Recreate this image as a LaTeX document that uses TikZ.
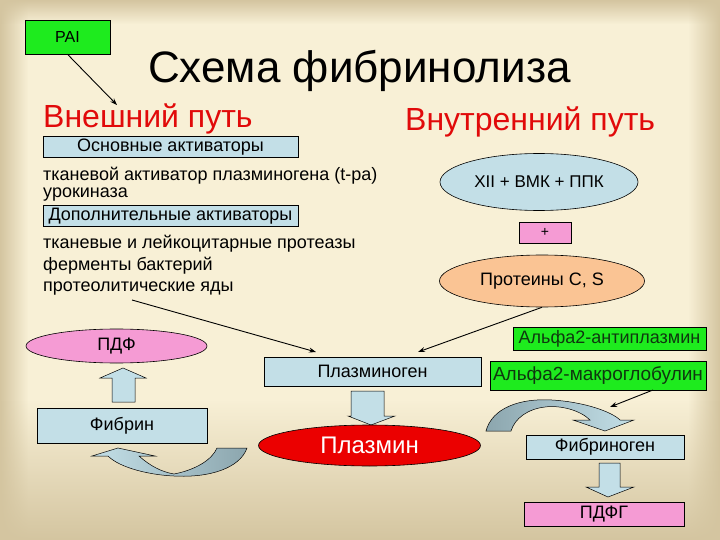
\documentclass[tikz,border=0pt]{standalone}
\usepackage{fontspec}
\setmainfont{Liberation Sans}
\usetikzlibrary{shapes.geometric,arrows.meta,fadings}
\definecolor{bgcream}{RGB}{248,240,214}
\definecolor{bgtan}{RGB}{212,197,160}
\definecolor{lblue}{RGB}{195,223,231}
\definecolor{dblue}{RGB}{140,166,174}
\definecolor{brgreen}{RGB}{30,235,30}
\definecolor{pinkc}{RGB}{245,155,212}
\definecolor{orangec}{RGB}{250,196,148}
\definecolor{redc}{RGB}{235,0,0}
\definecolor{headred}{RGB}{225,10,10}
\definecolor{dkgreen}{RGB}{15,55,15}
\tikzfading[name=fadeToRight, left color=transparent!0, right color=transparent!100]
\tikzfading[name=fadeToLeft, left color=transparent!100, right color=transparent!0]
\tikzfading[name=fadeToBottom, top color=transparent!0, bottom color=transparent!100]
\tikzfading[name=fadeToTop, top color=transparent!100, bottom color=transparent!0]
\begin{document}
\begin{tikzpicture}[x=1pt,y=-1pt,
  box/.style={draw=black, line width=0.6pt, rectangle, inner sep=0pt, font=\fontsize{18}{18}\selectfont},
  oval/.style={draw=black, line width=0.6pt, ellipse, inner sep=0pt, font=\fontsize{18}{18}\selectfont},
  txt/.style={anchor=base west, inner sep=0pt, font=\fontsize{18}{18}\selectfont},
  conn/.style={line width=0.9pt, -{Stealth[length=7pt,width=5pt]}},
  blockarrow/.style={draw=black, line width=0.5pt, fill=lblue}
]
\useasboundingbox (0,0) rectangle (720,540);
% background
\fill[bgcream] (0,0) rectangle (720,540);
\fill[bgtan, path fading=fadeToRight] (0,0) rectangle (28,540);
\fill[bgtan, path fading=fadeToBottom] (0,0) rectangle (720,24);
\fill[bgtan, path fading=fadeToLeft] (688,0) rectangle (720,540);
\fill[bgtan, path fading=fadeToTop] (0,400) rectangle (720,540);

% title and headings
\node[anchor=base west, inner sep=0pt, font=\fontsize{44}{44}\selectfont] (title) at (148,83) {Схема фибринолиза};
\node[anchor=base west, inner sep=0pt, text=headred, font=\fontsize{32}{32}\selectfont] (h1) at (43,128) {Внешний путь};
\node[anchor=base west, inner sep=0pt, text=headred, font=\fontsize{32}{32}\selectfont] (h2) at (405,131) {Внутренний путь};

% PAI
\node[box, fill=brgreen, minimum width=85pt, minimum height=34pt, font=\fontsize{16}{16}\selectfont] (pai) at (67.5,37) {PAI};
\coordinate (e1) at (117,105);
\draw[conn] (pai.south) -- (e1);

% external path list
\node[box, fill=lblue, minimum width=255pt, minimum height=21pt] (osn) at (170.5,147) {Основные активаторы};
\node[txt] (l1) at (43,181) {тканевой активатор плазминогена (t-pa)};
\node[txt] (l2) at (43,198) {урокиназа};
\node[box, fill=lblue, minimum width=255pt, minimum height=21pt] (dop) at (170.5,216) {Дополнительные активаторы};
\node[txt] (l3) at (43,248) {тканевые и лейкоцитарные протеазы};
\node[txt] (l4) at (43,270) {ферменты бактерий};
\node[txt] (l5) at (43,291) {протеолитические яды};

% internal path
\node[oval, fill=lblue, minimum width=198pt, minimum height=57pt, font=\fontsize{17}{17}\selectfont] (xii) at (539,182) {XII + ВМК + ППК};
\node[box, fill=pinkc, minimum width=52pt, minimum height=21pt, font=\fontsize{14}{14}\selectfont] (plus) at (545,232.5) {+};
\node[oval, fill=orangec, minimum width=205pt, minimum height=52pt] (prot) at (542,281) {Протеины С, S};

% middle
\node[oval, fill=pinkc, minimum width=181pt, minimum height=34pt] (pdf) at (116.5,346) {ПДФ};
\node[box, fill=lblue, minimum width=217pt, minimum height=29pt] (plg) at (372.5,371.5) {Плазминоген};
\node[box, fill=brgreen, minimum width=193pt, minimum height=23pt, text=dkgreen, font=\fontsize{18}{18}\selectfont] (ap) at (609.5,338.5) {Альфа2-антиплазмин};
\node[box, fill=brgreen, minimum width=216pt, minimum height=29pt, text=dkgreen, font=\fontsize{19}{19}\selectfont] (am) at (598,375.5) {Альфа2-макроглобулин};
\node[box, fill=lblue, minimum width=170pt, minimum height=35pt] (fib) at (122,425.5) {Фибрин};

% connectors
\coordinate (s2) at (132,300);
\coordinate (e2) at (316,352);
\draw[conn] (s2) -- (e2);
\coordinate (e3) at (418,352);
\draw[conn] (prot.south) -- (e3);
\coordinate (s4) at (653,390);
\coordinate (e4) at (610,407);
\draw[conn] (s4) -- (e4);

% block arrows
\draw[blockarrow] (112,402) -- (112,378) -- (100,378) -- (123,368) -- (146,378) -- (135,378) -- (135,402) -- cycle;
\draw[blockarrow] (351,391) -- (384,391) -- (384,416) -- (395,416) -- (371,425) -- (348,416) -- (351,416) -- cycle;
\draw[blockarrow] (599,463) -- (620,463) -- (620,487) -- (634,487) -- (608,497) -- (586,487) -- (599,487) -- cycle;

% curved arrows
\draw[line width=0.5pt, left color=lblue, right color=dblue]
  (92,456) -- (118,448) -- (155,456) -- (139,456)
  .. controls (150,466) and (162,472) .. (174,474)
  .. controls (195,470) and (212,460) .. (217,448)
  -- (247,448)
  .. controls (240,468) and (210,478) .. (174,476)
  .. controls (150,475) and (120,468) .. (108,456) -- cycle;
\draw[line width=0.5pt, left color=dblue, right color=lblue]
  (486,431) .. controls (492,408) and (520,398) .. (552,400)
  .. controls (585,402) and (612,412) .. (620,420)
  -- (634,420) -- (605,431) -- (573,420) -- (590,420)
  .. controls (580,410) and (560,405) .. (545,407)
  .. controls (528,409) and (515,418) .. (511,431) -- cycle;

% plasmin, fibrinogen, PDFG
\node[oval, fill=redc, text=white, minimum width=222pt, minimum height=41pt, font=\fontsize{24}{24}\selectfont] (pl) at (369.5,445.5) {Плазмин};
\node[box, fill=lblue, minimum width=158pt, minimum height=24pt] (fbg) at (605,447) {Фибриноген};
\node[box, fill=pinkc, minimum width=160pt, minimum height=24pt] (pdfg) at (604,514) {ПДФГ};
\end{tikzpicture}
\end{document}
